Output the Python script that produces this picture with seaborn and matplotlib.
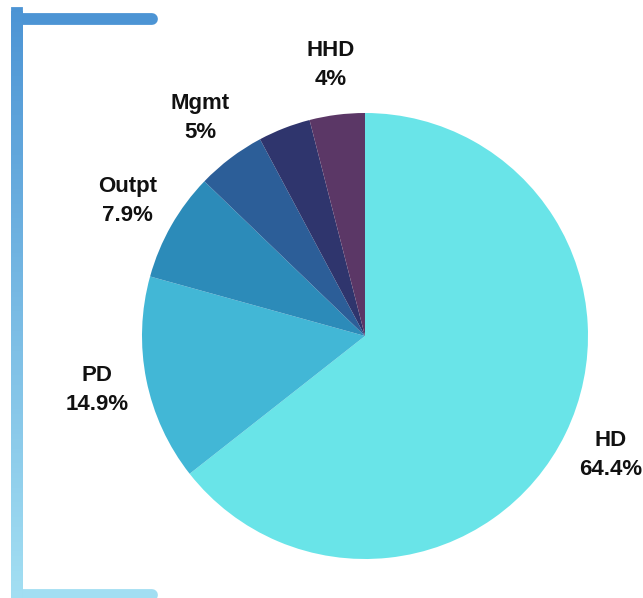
import numpy as np
import matplotlib
matplotlib.use("Agg")
import matplotlib.pyplot as plt
from matplotlib.lines import Line2D
from matplotlib.collections import LineCollection
from matplotlib.colors import to_rgb
import seaborn as sns

categories = ["HD", "PD", "Outpt", "Mgmt", "", "HHD"]
values = [64.4, 14.9, 7.9, 5.0, 3.8, 4.0]
pct_labels = ["64.4%", "14.9%", "7.9%", "5%", "", "4%"]
colors = ["#69e4e8", "#42b7d6", "#2c8bb9", "#2c5e98", "#2f356d", "#5b3766"]

sns.set_theme(style="white")
plt.rcParams['font.family'] = ['Liberation Sans', 'DejaVu Sans']

W, H = 643, 598
fig = plt.figure(figsize=(W / 100, H / 100), dpi=100)
fig.patch.set_facecolor("white")

cx, cy, r = 365, 336, 223
ax = fig.add_axes([(cx - r) / W, (H - cy - r) / H, 2 * r / W, 2 * r / H])
wedges, _ = ax.pie(values, colors=colors, startangle=90, counterclock=False,
                   radius=1, wedgeprops=dict(linewidth=0))
ax.set_xlim(-1, 1)
ax.set_ylim(-1, 1)
ax.set_aspect("equal")
ax.axis("off")

for w, cat, pl in zip(wedges, categories, pct_labels):
    if not cat:
        continue
    ang = np.deg2rad((w.theta1 + w.theta2) / 2)
    x, y = 1.225 * np.cos(ang), 1.225 * np.sin(ang)
    ax.text(x, y, f"{cat}\n{pl}", ha="center", va="center", fontsize=16,
            fontweight="bold", color="#111111", linespacing=1.5)

# decorative bracket
top_c = np.array(to_rgb("#4c94d4"))
bot_c = np.array(to_rgb("#a2def2"))
lw = 8.5
def fx(px):
    return px / W
def fy(py):
    return 1 - py / H

top_y, bot_y, vx = 18.5, 594.5, 17
fig.add_artist(Line2D([fx(17), fx(152)], [fy(top_y), fy(top_y)], color=top_c,
                      lw=lw, solid_capstyle="round", transform=fig.transFigure))
fig.add_artist(Line2D([fx(17), fx(152)], [fy(bot_y), fy(bot_y)], color=bot_c,
                      lw=lw, solid_capstyle="round", transform=fig.transFigure))
n = 120
ys = np.linspace(top_y - 6, bot_y + 6, n + 1)
segs = [[(fx(vx), fy(ys[i])), (fx(vx), fy(ys[i + 1]))] for i in range(n)]
cols = [top_c + (bot_c - top_c) * (i / (n - 1)) for i in range(n)]
lc = LineCollection(segs, colors=cols, linewidths=lw, capstyle="projecting",
                    transform=fig.transFigure)
fig.add_artist(lc)

fig.savefig("out.png", dpi=100, facecolor="white")
